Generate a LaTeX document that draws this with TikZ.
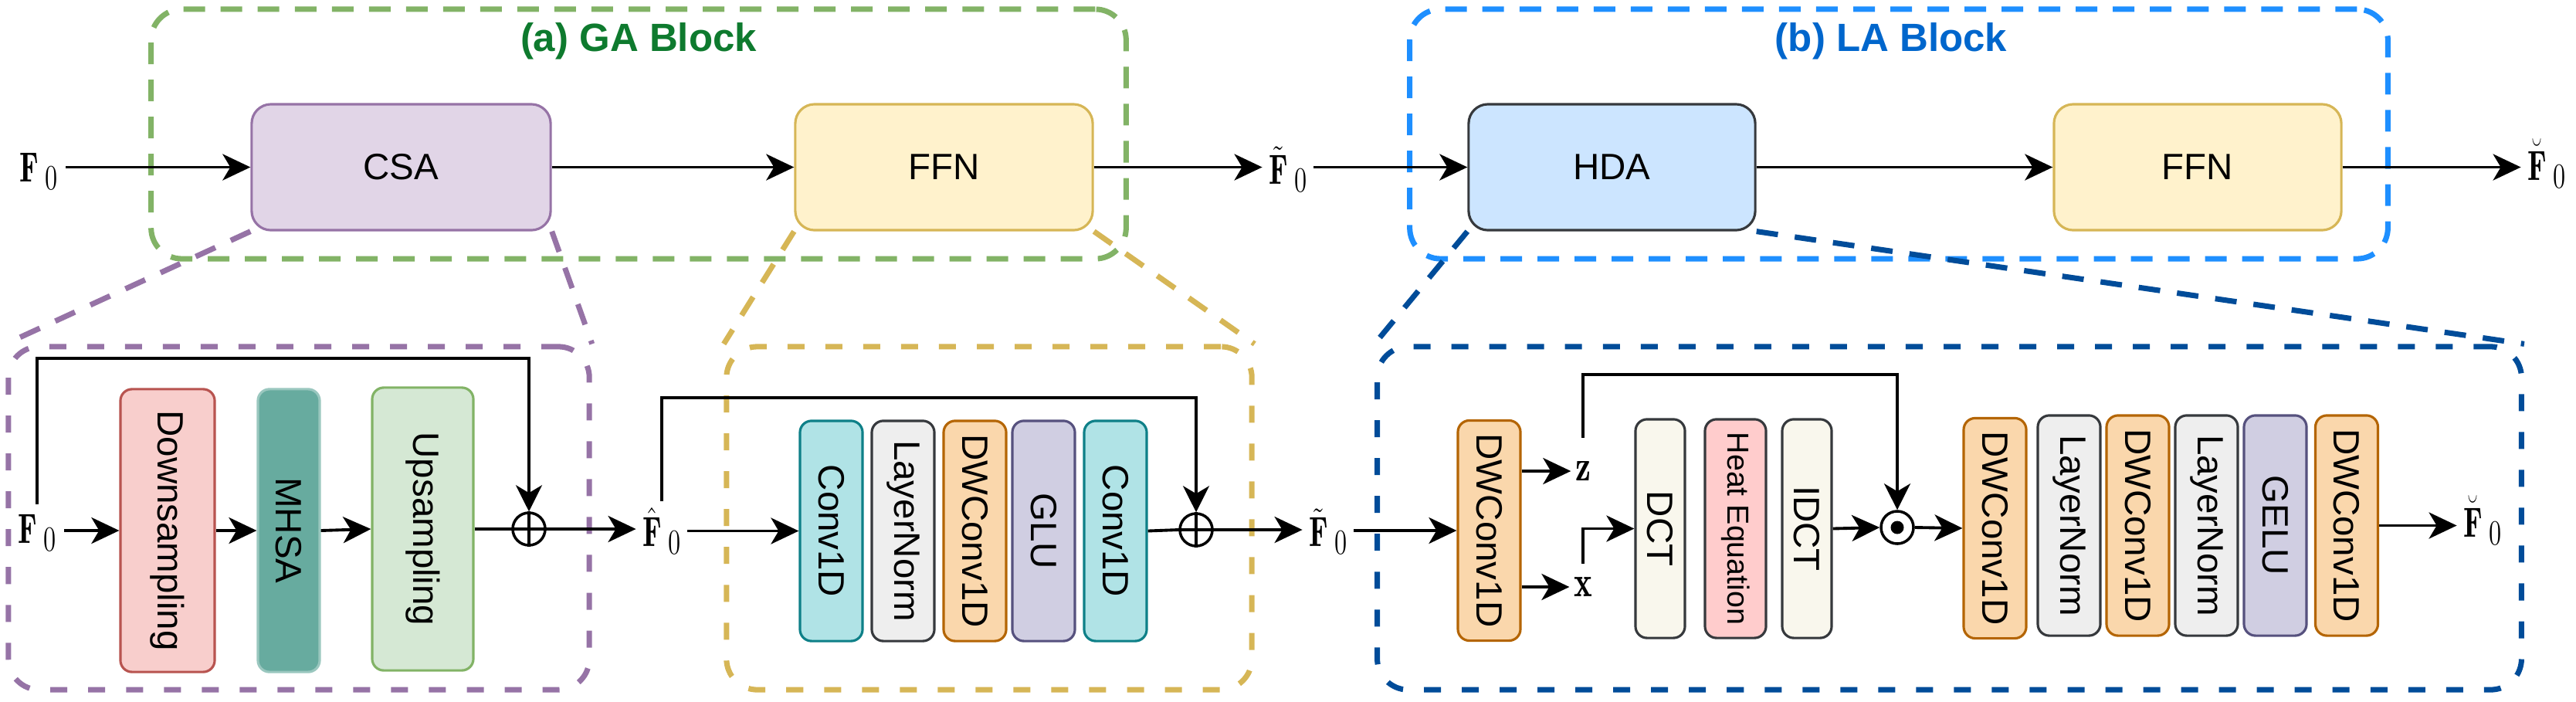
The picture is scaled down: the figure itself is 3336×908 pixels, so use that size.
\documentclass[tikz,border=0pt]{standalone}
\usepackage{fontspec}
\usepackage{graphicx}
\newfontfamily\arialf{Liberation Sans}
\usetikzlibrary{arrows.meta,calc,backgrounds}
\definecolor{gaGreen}{HTML}{82B366}
\definecolor{gaTitle}{HTML}{0E7A2E}
\definecolor{laBlue}{HTML}{1E8FFF}
\definecolor{laTitle}{HTML}{0066CC}
\definecolor{deepBlue}{HTML}{004C99}
\definecolor{purpS}{HTML}{9673A6}
\definecolor{purpF}{HTML}{E1D5E7}
\definecolor{yelS}{HTML}{D6B656}
\definecolor{yelF}{HTML}{FFF2CC}
\definecolor{hdaF}{HTML}{CCE5FF}
\definecolor{darkS}{HTML}{36393D}
\definecolor{redF}{HTML}{F8CECC}
\definecolor{redS}{HTML}{B85450}
\definecolor{tealF}{HTML}{67AB9F}
\definecolor{tealS}{HTML}{9AC7BF}
\definecolor{grnF}{HTML}{D5E8D4}
\definecolor{cyanF}{HTML}{B0E3E6}
\definecolor{cyanS}{HTML}{0E8088}
\definecolor{greyF}{HTML}{EEEEEE}
\definecolor{orgF}{HTML}{FAD7AC}
\definecolor{orgS}{HTML}{B46504}
\definecolor{lavF}{HTML}{D0CEE2}
\definecolor{lavS}{HTML}{56517E}
\definecolor{creamF}{HTML}{F9F7ED}
\definecolor{pinkF}{HTML}{FFCCCC}
\newcommand{\vtext}[1]{\rotatebox{-90}{#1}}
% bold F (possibly accented) with subscript 0, narrowed like the reference
\newcommand{\flab}[1]{\scalebox{0.72}[1]{\fontsize{15.5}{17}\selectfont #1\hspace{0.12cm}\raisebox{-0.1cm}{\fontsize{13}{13}\selectfont 0}}}
\newcommand{\brF}{\ooalign{$\mathbf{F}$\cr\hidewidth\raisebox{0.16cm}{˘}\hidewidth\cr}}
\newcommand{\vlab}[1]{\scalebox{0.8}[1]{\fontsize{16}{18}\selectfont$\mathbf{#1}$}}
\tikzset{
  topbox/.style={draw, rounded corners=0.25cm, line width=0.9pt, minimum height=1.63cm,
    inner sep=0pt, font=\arialf\fontsize{13.5}{15}\selectfont},
  vbox/.style={draw, rounded corners=0.15cm, line width=0.9pt, minimum width=0.81cm,
    minimum height=2.85cm, inner sep=0pt, font=\arialf\fontsize{13.5}{15}\selectfont},
  lbl/.style={inner sep=0.08cm},
  arr/.style={-{Stealth[length=0.36cm,width=0.34cm,inset=0.1cm]}, line width=1.1pt},
  plainln/.style={line width=1.1pt},
  skipln/.style={-{Stealth[length=0.34cm,width=0.34cm,inset=0.1cm]}, line width=1pt},
  topdash/.style={draw, dash pattern=on 0.28cm off 0.2cm, line width=2pt, rounded corners=0.4cm, inner sep=0pt},
  botdash/.style={draw, dash pattern=on 0.22cm off 0.27cm, line width=2pt, rounded corners=0.4cm, inner sep=0pt},
  linkdash/.style={dash pattern=on 0.28cm off 0.22cm, line width=2pt},
  ttl/.style={font=\arialf\bfseries\fontsize{14.5}{16}\selectfont, inner sep=0pt},
  opc/.style={circle, draw, line width=1pt, minimum size=0.42cm, inner sep=0pt, fill=white}
}
\begin{document}
\begin{tikzpicture}[x=0.01cm,y=-0.01cm]
\useasboundingbox (0,0) rectangle (3336,908);

\node[ttl, text=gaTitle] (GAt) at (827,53) {(a) GA Block};
\node[ttl, text=laTitle] (LAt) at (2449,53) {(b) LA Block};

% top row nodes
\node[topbox, fill=purpF, draw=purpS, minimum width=3.87cm] (CSA) at (519.5,216.5) {CSA};
\node[topbox, fill=yelF, draw=yelS, minimum width=3.85cm] (FFNa) at (1222.5,216.5) {FFN};
\node[topbox, fill=hdaF, draw=darkS, minimum width=3.71cm] (HDA) at (2087.5,216.5) {HDA};
\node[topbox, fill=yelF, draw=yelS, minimum width=3.72cm] (FFNb) at (2846,216.5) {FFN};

% top labels
\node[lbl, inner sep=0.1cm] (F0t) at (50,222) {\flab{$\mathbf{F}$}};
\node[lbl] (Ftt) at (1668,220) {\flab{$\tilde{\mathbf{F}}$}};
\node[lbl] (Fbt) at (3298,220) {\flab{\brF}};

\draw[arr] (F0t.east |- CSA) -- (CSA.west);
\draw[arr] (CSA.east) -- (FFNa.west);
\draw[arr] (FFNa.east) -- (Ftt.west |- FFNa);
\draw[arr] (Ftt.east |- HDA) -- (HDA.west);
\draw[arr] (HDA.east) -- (FFNb.west);
\draw[arr] (FFNb.east) -- (Fbt.west |- FFNb);

% ---------- (purple) CSA detail ----------
\node[lbl, inner sep=0.1cm] (F0b) at (48,690) {\flab{$\mathbf{F}$}};
\node[vbox, fill=redF, draw=redS, minimum width=1.22cm, minimum height=3.66cm] (Down) at (217,687) {\vtext{Downsampling}};
\node[vbox, fill=tealF, draw=tealS, minimum width=0.80cm, minimum height=3.66cm] (MHSA) at (374,687) {\vtext{MHSA}};
\node[vbox, fill=grnF, draw=gaGreen, minimum width=1.31cm, minimum height=3.66cm] (Up) at (547.5,685) {\vtext{Upsampling}};
\node[opc] (op1) at (685,685) {};
\draw[line width=1pt] (op1.north) -- (op1.south) (op1.west) -- (op1.east);
\node[lbl] (Fh) at (857,688) {\flab{$\hat{\mathbf{F}}$}};

\draw[arr] (F0b.east |- Down) -- (Down.west);
\draw[arr] (Down.east) -- (MHSA.west);
\draw[arr] (MHSA.east) -- (Up.west);
\draw[plainln] (Up.east) -- (op1.west);
\draw[arr] (op1.east) -- (Fh.west |- op1);
\coordinate (lvA) at (0,464);
\draw[skipln] ($(F0b.north)+(0,-2)$) -- (F0b.north |- lvA) -| (op1.north);

% ---------- (yellow) FFN detail ----------
\node[vbox, fill=cyanF, draw=cyanS] (C1) at (1076.5,687.5) {\vtext{Conv1D}};
\node[vbox, fill=greyF, draw=darkS] (LN1) at (1169.5,687.5) {\vtext{LayerNorm}};
\node[vbox, fill=orgF, draw=orgS] (DW1) at (1262.5,687.5) {\vtext{DWConv1D}};
\node[vbox, fill=lavF, draw=lavS] (GLU) at (1351.5,687.5) {\vtext{GLU}};
\node[vbox, fill=cyanF, draw=cyanS] (C2) at (1444.5,687.5) {\vtext{Conv1D}};
\node[opc] (op2) at (1549,686) {};
\draw[line width=1pt] (op2.north) -- (op2.south) (op2.west) -- (op2.east);
\node[lbl] (Ftb) at (1720,689) {\flab{$\tilde{\mathbf{F}}$}};

\draw[arr] (Fh.east |- C1) -- (C1.west);
\draw[plainln] (C2.east) -- (op2.west);
\draw[arr] (op2.east) -- (Ftb.west |- op2);
\coordinate (lvB) at (0,515);
\draw[skipln] (Fh.north) -- (Fh.north |- lvB) -| (op2.north);

% ---------- (blue) HDA detail ----------
\node[vbox, fill=orgF, draw=orgS] (DWa) at (1928.5,687) {\vtext{DWConv1D}};
\node[lbl, inner sep=0.05cm] (zl) at (2050,610) {\vlab{z}};
\node[lbl, inner sep=0.05cm] (xl) at (2050,760) {\vlab{x}};
\node[vbox, fill=creamF, draw=darkS, minimum width=0.64cm, minimum height=2.83cm] (DCT) at (2150,684.5) {\vtext{DCT}};
\node[vbox, fill=pinkF, draw=darkS, minimum width=0.79cm, minimum height=2.83cm, font=\arialf\fontsize{11.2}{13}\selectfont] (Heat) at (2247.5,684.5) {\vtext{Heat Equation}};
\node[vbox, fill=creamF, draw=darkS, minimum width=0.64cm, minimum height=2.83cm] (IDCT) at (2340,684.5) {\vtext{IDCT}};
\node[opc] (od) at (2457,683) {};
\fill (od.center) circle (0.085cm);
\node[vbox, fill=orgF, draw=orgS] (DWb) at (2583.5,684) {\vtext{DWConv1D}};
\node[vbox, fill=greyF, draw=darkS] (LNb) at (2679.5,680.5) {\vtext{LayerNorm}};
\node[vbox, fill=orgF, draw=orgS] (DWc) at (2768.5,680.5) {\vtext{DWConv1D}};
\node[vbox, fill=greyF, draw=darkS] (LNc) at (2857.5,680.5) {\vtext{LayerNorm}};
\node[vbox, fill=lavF, draw=lavS] (GELU) at (2946.5,680.5) {\vtext{GELU}};
\node[vbox, fill=orgF, draw=orgS] (DWd) at (3039,680.5) {\vtext{DWConv1D}};
\node[lbl] (Fbb) at (3215,682) {\flab{\brF}};

\draw[arr] (Ftb.east |- DWa) -- (DWa.west);
\draw[arr] (DWa.east |- zl) -- (zl.west);
\draw[arr] (DWa.east |- xl) -- (xl.west);
\coordinate (zs) at ($(zl.north)+(0,-25)$);
\coordinate (xs) at ($(xl.north)+(0,-12)$);
\coordinate (lvC) at (0,485);
\draw[skipln] (zs) -- (zs |- lvC) -| (od.north);
\draw[arr] (xs) |- (DCT.west);
\draw[arr] (IDCT.east) -- (od.west);
\draw[arr] (od.east) -- (DWb.west);
\draw[arr] (DWd.east) -- (Fbb.west |- DWd);

% container boxes and link lines, behind everything
\begin{scope}[on background layer]
\node[topdash, draw=gaGreen, minimum width=12.62cm, minimum height=3.23cm] (GA) at (827,173.5) {};
\node[topdash, draw=laBlue, minimum width=12.66cm, minimum height=3.23cm] (LA) at (2459,173.5) {};
\node[botdash, draw=purpS, minimum width=7.52cm, minimum height=4.44cm] (PB) at (387,671) {};
\node[botdash, draw=yelS, minimum width=6.80cm, minimum height=4.44cm] (YB) at (1281,671) {};
\node[botdash, draw=deepBlue, minimum width=14.81cm, minimum height=4.44cm] (BB) at (2524.5,671) {};
\draw[linkdash, draw=purpS] (CSA.south west) -- (PB.north west);
\draw[linkdash, draw=purpS] (CSA.south east) -- (PB.north east);
\draw[linkdash, draw=yelS] (FFNa.south west) -- (YB.north west);
\draw[linkdash, draw=yelS] (FFNa.south east) -- (YB.north east);
\draw[linkdash, draw=deepBlue] (HDA.south west) -- (BB.north west);
\draw[linkdash, draw=deepBlue] (HDA.south east) -- (BB.north east);
\end{scope}
\end{tikzpicture}
\end{document}
